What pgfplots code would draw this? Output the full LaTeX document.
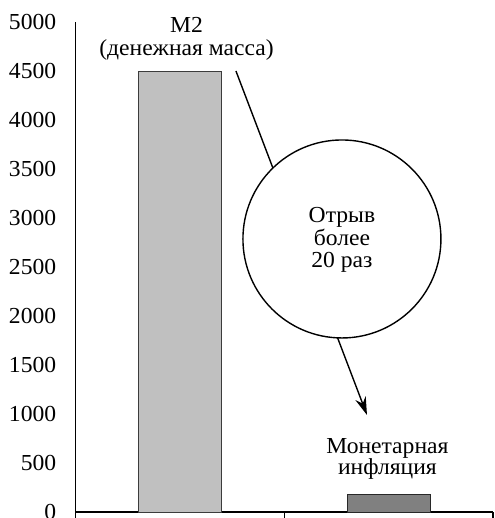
\documentclass[border=0pt]{standalone}
\usepackage{pgfplots}
\pgfplotsset{compat=1.18}
\usepackage{fontspec}
\setmainfont[FakeStretch=1.03]{Liberation Serif}
\usetikzlibrary{arrows.meta}
\begin{document}
\begin{tikzpicture}
\begin{axis}[
  scale only axis,
  width=417.3bp, height=490bp,
  xmin=-0.5, xmax=1.5,
  ymin=0, ymax=5000,
  ytick={0,500,...,5000},
  xtick={-0.5,0.5,1.5},
  xticklabels={},
  axis x line=bottom,
  axis y line=left,
  axis line style={-, line width=1.1pt},
  tick align=outside,
  major tick length=6bp,
  xtick style={line width=1.1pt, black},
  ytick style={draw=none},
  /pgf/number format/assume math mode=true,
  /pgf/number format/set thousands separator={},
  yticklabel style={font=\fontsize{23}{25}\selectfont, xshift=-10bp},
  clip=false,
  ybar,
  bar width=0.4,
  bar shift=0pt,
]
\addplot[fill={rgb,255:red,192;green,192;blue,192}, draw={rgb,255:red,60;green,60;blue,60}, line width=0.8pt] coordinates {(0,4500)};
\addplot[fill={rgb,255:red,128;green,128;blue,128}, draw={rgb,255:red,40;green,40;blue,40}, line width=0.8pt] coordinates {(1,175)};
\draw[line width=1.4pt, -{Stealth[length=18bp,width=11bp]}] (axis cs:0.268,4500) -- (axis cs:0.896,990);
\draw[line width=1.4pt, fill=white] (axis cs:0.776,2786) circle[radius=99bp];
\begin{scope}[every node/.style={anchor=base, inner sep=0pt, font=\fontsize{23}{25}\selectfont}]
\node at (axis cs:0.776,2959) {Отрыв};
\node at (axis cs:0.776,2724) {более};
\node at (axis cs:0.776,2490) {20 раз};
\node at (axis cs:0.031,4888) {M2};
\node at (axis cs:0.031,4663) {(денежная масса)};
\node at (axis cs:0.994,602) {Монетарная};
\node at (axis cs:0.994,378) {инфляция};
\end{scope}
\end{axis}
\pgfresetboundingbox
\path[use as bounding box] ([xshift=-75.7bp,yshift=-6bp]current axis.south west) rectangle ([xshift=2bp,yshift=22bp]current axis.north east);
\end{tikzpicture}
\end{document}
